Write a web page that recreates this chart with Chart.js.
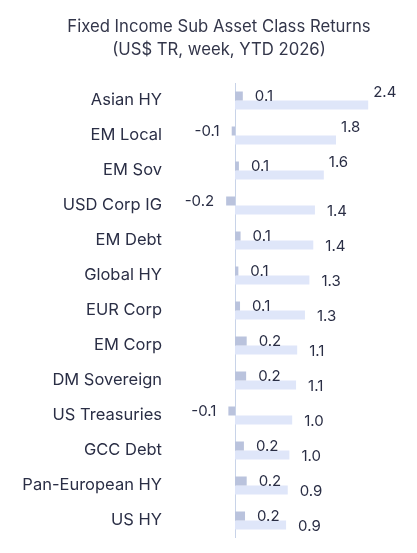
<!DOCTYPE html>
<html>
<head>
<meta charset="utf-8">
<script src="https://cdn.jsdelivr.net/npm/chart.js@4/dist/chart.umd.min.js"></script>
<style>
html,body{margin:0;padding:0;background:#fff;}
#wrap{width:417px;height:553px;position:relative;}
</style>
</head>
<body>
<div id="wrap"><canvas id="c"></canvas></div>
<script>
const categories = ['Asian HY','EM Local','EM Sov','USD Corp IG','EM Debt','Global HY','EUR Corp','EM Corp','DM Sovereign','US Treasuries','GCC Debt','Pan-European HY','US HY'];
const weekReturns = [0.14,-0.06,0.07,-0.16,0.1,0.06,0.09,0.21,0.2,-0.12,0.16,0.21,0.18];
const ytdReturns = [2.4,1.82,1.6,1.44,1.41,1.34,1.26,1.12,1.1,1.03,0.98,0.95,0.92];
const titleLines = ['Fixed Income Sub Asset Class Returns','(US$ TR, week, YTD 2026)'];

const TEXT = '#2a2e45';
const FONT = 'Inter';

const titleBlock = {
  id:'titleBlock',
  afterDraw(chart){
    const ctx = chart.ctx;
    ctx.save();
    ctx.font = '16.7px ' + FONT;
    ctx.fillStyle = '#33364a';
    ctx.textAlign = 'center';
    ctx.textBaseline = 'middle';
    titleLines.forEach((t, i) => ctx.fillText(t, 219, 27 + i * 23));
    ctx.restore();
  }
};

const zeroLine = {
  id:'zeroLine',
  beforeDatasetsDraw(chart){
    const {ctx, chartArea, scales} = chart;
    const x = Math.round(scales.x.getPixelForValue(0)) + 0.5;
    ctx.save();
    ctx.strokeStyle = '#c8d3e8';
    ctx.lineWidth = 1;
    ctx.beginPath();
    ctx.moveTo(x, chartArea.top);
    ctx.lineTo(x, chartArea.bottom);
    ctx.stroke();
    ctx.restore();
  }
};

const valueLabels = {
  id:'valueLabels',
  afterDatasetsDraw(chart){
    const ctx = chart.ctx;
    ctx.save();
    ctx.font = '15px ' + FONT;
    ctx.fillStyle = TEXT;
    ctx.textBaseline = 'middle';
    chart.data.datasets.forEach((ds, di) => {
      const meta = chart.getDatasetMeta(di);
      meta.data.forEach((bar, i) => {
        const v = ds.data[i];
        const txt = v.toFixed(1);
        let x, y;
        if (di === 0) {
          y = bar.y + 1;
          if (v >= 0) { ctx.textAlign = 'left'; x = bar.x + 12; }
          else { ctx.textAlign = 'right'; x = bar.x - 12; }
        } else {
          ctx.textAlign = 'left';
          if (v >= 1.6) { x = bar.x + 5; y = bar.y - 13; }
          else { x = bar.x + 12; y = bar.y + 1; }
        }
        ctx.fillText(txt, x, y);
      });
    });
    ctx.restore();
  }
};

new Chart(document.getElementById('c'), {
  type:'bar',
  data:{
    labels: categories,
    datasets:[
      {label:'Week', data: weekReturns, backgroundColor:'#bac3dd', barPercentage:1, categoryPercentage:0.52},
      {label:'YTD', data: ytdReturns, backgroundColor:'#dfe6f9', barPercentage:1, categoryPercentage:0.52}
    ]
  },
  options:{
    indexAxis:'y',
    responsive:true,
    maintainAspectRatio:false,
    animation:false,
    layout:{padding:{left:0,right:15.5,top:83,bottom:15}},
    plugins:{
      legend:{display:false},
      tooltip:{enabled:false},
      title:{display:false}
    },
    scales:{
      x:{
        display:false,
        min:-1.1,
        max:3.0
      },
      y:{
        grid:{display:false,drawTicks:false},
        border:{display:false},
        ticks:{color:TEXT,font:{family:FONT,size:16.5},padding:12},
        afterFit(s){ s.width = 174; s.paddingTop = 0; s.paddingBottom = 0; }
      }
    }
  },
  plugins:[zeroLine, valueLabels, titleBlock]
});
</script>
</body>
</html>
